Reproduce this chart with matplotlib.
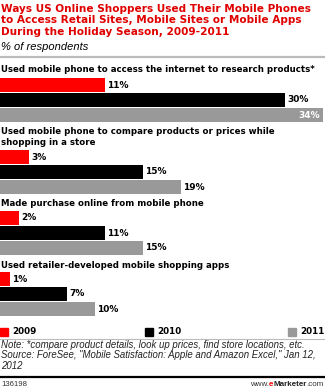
import matplotlib.pyplot as plt

# survey results, % of respondents
categories = [
    "Used mobile phone to access the internet to research products*",
    "Used mobile phone to compare products or prices while\nshopping in a store",
    "Made purchase online from mobile phone",
    "Used retailer-developed mobile shopping apps",
]
years = ["2009", "2010", "2011"]
values_2009 = [11, 3, 2, 1]
values_2010 = [30, 15, 11, 7]
values_2011 = [34, 19, 15, 10]

COLORS = ["#ff0000", "#000000", "#999999"]
TITLE_RED = "#e00000"

W, H = 325, 391
PX_PER_PCT = 9.5
# top pixel row of the first bar in each group
GROUP_TOPS = [78, 150, 211, 272]
BAR_STEP, BAR_H = 15, 14


def fx(px):
    return px / W


def fy(py):
    return 1 - py / H


fig = plt.figure(figsize=(W / 100, H / 100), dpi=100)
ax = fig.add_axes([0, 0, 1, 1])
ax.set_xlim(0, W / PX_PER_PCT)
ax.set_ylim(H, 0)
ax.axis("off")

series = [values_2009, values_2010, values_2011]
for gi, top in enumerate(GROUP_TOPS):
    for si, vals in enumerate(series):
        yc = top + si * BAR_STEP + BAR_H / 2
        v = vals[gi]
        ax.barh(yc, v, height=BAR_H, color=COLORS[si], linewidth=0)
        if v == max(values_2011):
            ax.text(v - 0.3, yc, f"{v}%", ha="right", va="center",
                    color="white", fontsize=6.5, fontweight="bold")
        else:
            ax.text(v + 0.25, yc, f"{v}%", ha="left", va="center",
                    color="black", fontsize=6.5, fontweight="bold")

# group headings
label_y = [70, 137, 203, 265]
for lab, ly in zip(categories, label_y):
    fig.text(fx(1), fy(ly), lab, ha="left", va="center", fontsize=6.2,
             fontweight="bold", linespacing=1.25)

fig.text(fx(1), fy(4), "Ways US Online Shoppers Used Their Mobile Phones\n"
         "to Access Retail Sites, Mobile Sites or Mobile Apps\n"
         "During the Holiday Season, 2009-2011",
         ha="left", va="top", fontsize=7.6, fontweight="bold",
         color=TITLE_RED, linespacing=1.18)
fig.text(fx(1), fy(47), "% of respondents", ha="left", va="center",
         fontsize=8, style="italic", family="Liberation Sans")
fig.add_artist(plt.Line2D([0, 1], [fy(56.5), fy(56.5)], color="#bbbbbb", lw=1.6))

# legend
leg_x = [0, 145, 288]
for x0, yr, c in zip(leg_x, years, COLORS):
    fig.patches.append(plt.Rectangle((fx(x0), fy(336)), fx(8), 8 / H,
                                     transform=fig.transFigure, color=c))
    fig.text(fx(x0 + 12), fy(332), yr, ha="left", va="center", fontsize=6.3,
             fontweight="bold")

fig.add_artist(plt.Line2D([0, 1], [fy(339), fy(339)], color="#bbbbbb", lw=0.8))
fig.text(fx(1), fy(340), "Note: *compare product details, look up prices, find store locations, etc.\n"
         "Source: ForeSee, \"Mobile Satisfaction: Apple and Amazon Excel,\" Jan 12,\n2012",
         ha="left", va="top", fontsize=6.9, style="italic",
         family="Liberation Sans", color="#222222", linespacing=1.05)
fig.add_artist(plt.Line2D([0, 1], [fy(377), fy(377)], color="black", lw=1.6))
fig.text(fx(1), fy(385), "136198", ha="left", va="center", fontsize=5.6,
         family="Liberation Sans", color="#333333")

# footer wordmark, built right to left
FOOT = dict(fontsize=5.8, family="Liberation Sans", va="center", ha="right")
com = fig.text(fx(324), fy(385), ".com", color="#333333", **FOOT)
mk = ax.annotate("Marketer", xy=(0, 0.5), xycoords=com, color="#222222",
                 fontweight="bold", **FOOT)
e = ax.annotate("e", xy=(0, 0.5), xycoords=mk, color="#ff0000",
                fontweight="bold", **FOOT)
ax.annotate("www.", xy=(0, 0.5), xycoords=e, color="#333333", **FOOT)

fig.savefig("out.png", dpi=100)
